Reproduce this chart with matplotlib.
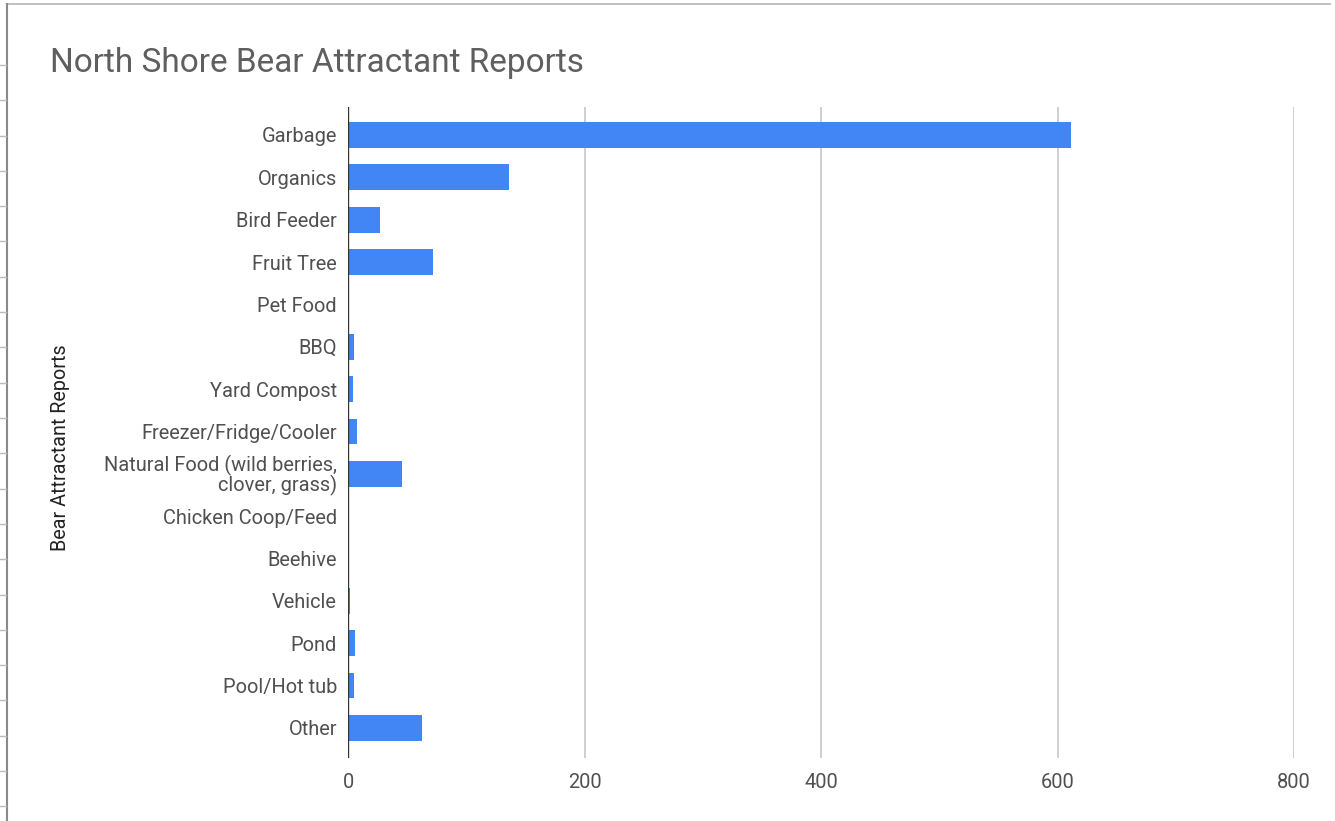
import numpy as np
import matplotlib.pyplot as plt
from matplotlib.lines import Line2D

plt.rcParams['font.family'] = ['Roboto', 'DejaVu Sans']

# --- DATA ---
categories = [
    "Garbage", "Organics", "Bird Feeder", "Fruit Tree", "Pet Food", "BBQ",
    "Yard Compost", "Freezer/Fridge/Cooler",
    "Natural Food (wild berries,\nclover, grass)", "Chicken Coop/Feed",
    "Beehive", "Vehicle", "Pond", "Pool/Hot tub", "Other",
]
reports = [611, 136, 27, 72, 0, 5, 4, 8, 46, 0, 0, 2, 6, 5, 63]
x_ticks = [0, 200, 400, 600, 800]

BAR = '#4285F4'
LABEL = '#505050'

fig = plt.figure(figsize=(13.35, 8.21), dpi=100)
ax = fig.add_axes([348/1335, 1 - 758/821, (1294 - 348)/1335, (758 - 107)/821])

y = np.arange(len(categories))
ax.barh(y, reports, height=0.61, color=BAR, zorder=3)

ax.set_xlim(0, 800)
ax.set_ylim(14.71, -0.66)
ax.set_xticks(x_ticks)
ax.set_yticks(y)
ax.set_yticklabels(categories, ha='right', linespacing=0.9)
ax.tick_params(axis='both', length=0, labelsize=14.4, labelcolor=LABEL)
ax.tick_params(axis='y', pad=8)
ax.tick_params(axis='x', pad=11)

for v in x_ticks[1:]:
    ax.axvline(v, color='#cccccc', lw=1.3, zorder=1)
ax.axvline(0, color='#333333', lw=1.7, zorder=4)
for s in ax.spines.values():
    s.set_visible(False)

fig.text(61/1335, 1 - 448/821, 'Bear Attractant Reports', rotation=90,
         ha='center', va='center', fontsize=14.2, color='#222222')
fig.text(50/1335, 1 - 72/821, 'North Shore Bear Attractant Reports',
         ha='left', va='baseline', fontsize=24, color='#5f5f5f')

# screenshot frame
fig.add_artist(Line2D([7/1335, 1330/1335], [1 - 4/821, 1 - 4/821],
                      color='#b5b5b5', lw=1.2))
fig.add_artist(Line2D([7/1335, 7/1335], [0, 1 - 4/821],
                      color='#8a8a8a', lw=1.5))
for ty in np.arange(65, 821, 35.3):
    fig.add_artist(Line2D([0, 6/1335], [1 - ty/821, 1 - ty/821],
                          color='#bbbbbb', lw=1))

fig.savefig('out.png', dpi=100)
